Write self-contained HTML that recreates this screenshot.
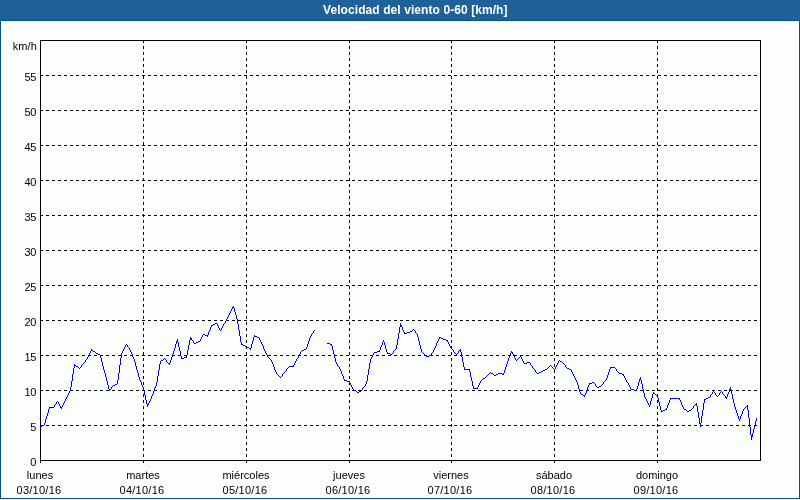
<!DOCTYPE html>
<html><head><meta charset="utf-8"><title>Velocidad del viento</title>
<style>
html,body{margin:0;padding:0;background:#fff;}
body{width:800px;height:500px;position:relative;overflow:hidden;font-family:"Liberation Sans",sans-serif;font-size:11px;color:#000;}
#frame{position:absolute;left:0;top:21px;width:798px;height:477px;border:1px solid #04518c;border-top:0;background:#fff;}
#hdr{position:absolute;left:0;top:0;width:800px;height:21px;background:#1e6196;}
#img{position:absolute;left:2px;top:22px;width:796px;height:476px;background:#fcfefc;}
#hline{position:absolute;left:1px;top:20px;width:798px;height:1px;background:#04518c;}
#title{position:absolute;z-index:2;left:323px;top:0;height:20px;line-height:20px;white-space:nowrap;color:#fff;font-weight:bold;font-size:12px;letter-spacing:0.08px;}
.yl{position:absolute;left:0;width:36px;text-align:right;height:13px;line-height:13px;letter-spacing:-0.4px;}
.un{letter-spacing:0.1px;width:37px;}
.xl{position:absolute;width:100px;text-align:center;height:13px;line-height:13px;}
.dt{letter-spacing:0.25px;}
svg{position:absolute;left:0;top:0;}
</style></head><body>
<div id="hdr"></div><div id="frame"></div><div id="img"></div><div id="hline"></div>
<div id="title">Velocidad del viento 0-60 [km/h]</div>

<svg width="800" height="500" viewBox="0 0 800 500" shape-rendering="crispEdges">
<defs><pattern id="dz" width="16" height="10" patternUnits="userSpaceOnUse"><path d="M6 0.5h1M9 0.5h1M12 0.5h1M2 2.5h1M13 2.5h1M4 3.5h1M7 3.5h1M10 3.5h1M15 4.5h1M2 5.5h1M8 5.5h1M12 5.5h1M5 6.5h1M10 7.5h1M14 7.5h1M1 8.5h1M4 8.5h1M7 8.5h1M9 9.5h1M13 9.5h1" stroke="#2464ae" stroke-width="1"/></pattern></defs><rect x="0" y="0" width="800" height="20" fill="url(#dz)"/>
<rect x="40.5" y="40.5" width="720" height="420" fill="none" stroke="#000" stroke-width="1"/>
<path d="M40 75.5H760M40 110.5H760M40 145.5H760M40 180.5H760M40 215.5H760M40 250.5H760M40 285.5H760M40 320.5H760M40 355.5H760M40 390.5H760M40 425.5H760" stroke="#000" stroke-width="1" stroke-dasharray="3 3" fill="none"/>
<path d="M143.5 40V460M246.5 40V460M349.5 40V460M451.5 40V460M554.5 40V460M657.5 40V460" stroke="#000" stroke-width="1" stroke-dasharray="3 3" fill="none"/>
<path d="M40.5 460V463M143.5 460V463M246.5 460V463M349.5 460V463M451.5 460V463M554.5 460V463M657.5 460V463" stroke="#000" stroke-width="1" fill="none"/>
<path d="M40.5 426v1M41.5 426v1M42.5 425v1M43.5 425v1M44.5 423v2M45.5 419v4M46.5 416v3M47.5 413v3M48.5 409v4M49.5 407v2M50.5 407v1M51.5 407v1M52.5 407v1M53.5 407v1M54.5 405v2M55.5 404v1M56.5 402v2M57.5 401v1M58.5 402v2M59.5 404v2M60.5 406v2M61.5 407v2M62.5 405v2M63.5 403v2M64.5 401v2M65.5 399v2M66.5 397v2M67.5 395v2M68.5 393v2M69.5 391v2M70.5 387v4M71.5 381v6M72.5 374v7M73.5 368v6M74.5 364v4M75.5 365v1M76.5 366v1M77.5 366v1M78.5 367v1M79.5 368v1M80.5 367v1M81.5 365v2M82.5 364v1M83.5 363v1M84.5 362v1M85.5 360v2M86.5 359v1M87.5 357v2M88.5 355v2M89.5 353v2M90.5 351v2M91.5 349v2M92.5 350v1M93.5 351v1M94.5 351v1M95.5 352v1M96.5 353v1M97.5 353v1M98.5 354v1M99.5 354v1M100.5 355v3M101.5 358v4M102.5 362v4M103.5 366v4M104.5 370v3M105.5 373v4M106.5 377v4M107.5 381v4M108.5 385v4M109.5 389v2M110.5 389v1M111.5 387v2M112.5 386v1M113.5 385v1M114.5 385v1M115.5 384v1M116.5 384v1M117.5 380v4M118.5 373v7M119.5 365v8M120.5 358v7M121.5 353v5M122.5 351v2M123.5 349v2M124.5 347v2M125.5 345v2M126.5 344v1M127.5 345v2M128.5 347v1M129.5 348v2M130.5 350v2M131.5 352v2M132.5 354v3M133.5 357v2M134.5 359v3M135.5 362v4M136.5 366v4M137.5 370v3M138.5 373v4M139.5 377v3M140.5 380v2M141.5 382v3M142.5 385v2M143.5 387v4M144.5 391v4M145.5 395v5M146.5 400v4M147.5 404v3M148.5 403v2M149.5 401v2M150.5 399v2M151.5 396v3M152.5 394v2M153.5 391v3M154.5 388v3M155.5 386v2M156.5 382v4M157.5 376v6M158.5 370v6M159.5 364v6M160.5 361v3M161.5 360v1M162.5 360v1M163.5 359v1M164.5 358v1M165.5 359v1M166.5 360v2M167.5 362v1M168.5 363v1M169.5 363v2M170.5 360v3M171.5 357v3M172.5 354v3M173.5 351v3M174.5 348v3M175.5 344v4M176.5 341v3M177.5 339v3M178.5 342v5M179.5 347v4M180.5 351v5M181.5 356v3M182.5 358v1M183.5 358v1M184.5 357v1M185.5 357v1M186.5 355v3M187.5 350v5M188.5 345v5M189.5 340v5M190.5 337v3M191.5 338v2M192.5 340v1M193.5 341v2M194.5 343v1M195.5 343v1M196.5 342v1M197.5 342v1M198.5 341v1M199.5 341v1M200.5 339v2M201.5 337v2M202.5 335v2M203.5 334v1M204.5 334v1M205.5 335v1M206.5 335v1M207.5 335v2M208.5 332v3M209.5 330v2M210.5 327v3M211.5 325v2M212.5 325v1M213.5 324v1M214.5 324v1M215.5 323v1M216.5 323v1M217.5 324v2M218.5 326v2M219.5 328v2M220.5 330v1M221.5 328v2M222.5 326v2M223.5 324v2M224.5 323v1M225.5 321v2M226.5 319v2M227.5 317v2M228.5 315v2M229.5 313v2M230.5 311v2M231.5 309v2M232.5 307v2M233.5 306v2M234.5 308v4M235.5 312v3M236.5 315v4M237.5 319v5M238.5 324v6M239.5 330v6M240.5 336v6M241.5 342v3M242.5 344v1M243.5 345v1M244.5 345v1M245.5 346v1M246.5 346v1M247.5 347v1M248.5 347v1M249.5 348v1M250.5 348v2M251.5 344v4M252.5 341v3M253.5 337v4M254.5 335v2M255.5 336v1M256.5 336v1M257.5 337v1M258.5 337v1M259.5 338v2M260.5 340v2M261.5 342v2M262.5 344v2M263.5 346v3M264.5 349v2M265.5 351v2M266.5 353v2M267.5 355v2M268.5 357v1M269.5 358v1M270.5 359v1M271.5 360v2M272.5 362v2M273.5 364v3M274.5 367v3M275.5 370v2M276.5 372v2M277.5 374v1M278.5 375v1M279.5 376v1M280.5 377v1M281.5 376v1M282.5 374v2M283.5 373v1M284.5 372v1M285.5 371v1M286.5 369v2M287.5 368v1M288.5 367v1M289.5 366v1M290.5 366v1M291.5 366v1M292.5 366v1M293.5 365v2M294.5 363v2M295.5 361v2M296.5 359v2M297.5 358v1M298.5 356v2M299.5 354v2M300.5 352v2M301.5 351v1M302.5 350v1M303.5 350v1M304.5 349v1M305.5 349v1M306.5 347v2M307.5 344v3M308.5 341v3M309.5 338v3M310.5 336v2M311.5 334v2M312.5 333v1M313.5 331v2M314.5 330v1M327.5 343v1M328.5 343v1M329.5 343v1M330.5 344v1M331.5 344v2M332.5 346v4M333.5 350v4M334.5 354v4M335.5 358v4M336.5 362v2M337.5 364v2M338.5 366v1M339.5 367v2M340.5 369v2M341.5 371v3M342.5 374v2M343.5 376v3M344.5 379v2M345.5 380v1M346.5 380v1M347.5 381v1M348.5 381v1M349.5 381v2M350.5 383v2M351.5 385v2M352.5 387v2M353.5 389v1M354.5 390v1M355.5 390v1M356.5 391v1M357.5 392v1M358.5 392v1M359.5 391v1M360.5 391v1M361.5 390v1M362.5 388v2M363.5 387v1M364.5 386v1M365.5 384v2M366.5 381v3M367.5 375v6M368.5 369v6M369.5 363v6M370.5 359v4M371.5 357v2M372.5 355v2M373.5 353v2M374.5 352v1M375.5 352v1M376.5 352v1M377.5 351v1M378.5 351v1M379.5 350v2M380.5 347v3M381.5 345v2M382.5 342v3M383.5 340v2M384.5 342v3M385.5 345v4M386.5 349v3M387.5 352v2M388.5 353v1M389.5 353v1M390.5 354v1M391.5 354v1M392.5 353v1M393.5 351v2M394.5 350v1M395.5 349v1M396.5 345v4M397.5 339v6M398.5 333v6M399.5 327v6M400.5 323v4M401.5 325v2M402.5 327v3M403.5 330v2M404.5 332v2M405.5 333v1M406.5 333v1M407.5 332v1M408.5 332v1M409.5 332v1M410.5 331v1M411.5 331v1M412.5 330v1M413.5 329v1M414.5 330v1M415.5 331v2M416.5 333v1M417.5 334v3M418.5 337v4M419.5 341v4M420.5 345v4M421.5 349v3M422.5 352v1M423.5 353v1M424.5 354v1M425.5 355v1M426.5 356v1M427.5 356v1M428.5 356v1M429.5 355v1M430.5 355v1M431.5 353v2M432.5 352v1M433.5 350v2M434.5 348v2M435.5 346v2M436.5 343v3M437.5 341v2M438.5 339v2M439.5 337v2M440.5 337v1M441.5 338v1M442.5 338v1M443.5 339v1M444.5 339v1M445.5 339v1M446.5 340v1M447.5 340v2M448.5 342v2M449.5 344v2M450.5 346v2M451.5 348v1M452.5 349v1M453.5 350v2M454.5 352v1M455.5 353v1M456.5 354v1M457.5 353v1M458.5 351v2M459.5 350v1M460.5 349v3M461.5 352v5M462.5 357v5M463.5 362v5M464.5 367v3M465.5 369v1M466.5 369v1M467.5 369v1M468.5 369v1M469.5 369v3M470.5 372v5M471.5 377v4M472.5 381v5M473.5 386v3M474.5 388v1M475.5 388v1M476.5 388v1M477.5 387v2M478.5 385v2M479.5 383v2M480.5 381v2M481.5 380v1M482.5 379v1M483.5 378v1M484.5 378v1M485.5 377v1M486.5 376v1M487.5 375v1M488.5 374v1M489.5 373v1M490.5 372v1M491.5 373v1M492.5 373v1M493.5 374v1M494.5 375v1M495.5 375v1M496.5 374v1M497.5 374v1M498.5 373v1M499.5 373v1M500.5 373v1M501.5 373v1M502.5 374v1M503.5 373v2M504.5 370v3M505.5 367v3M506.5 364v3M507.5 361v3M508.5 358v3M509.5 356v2M510.5 353v3M511.5 351v2M512.5 352v2M513.5 354v2M514.5 356v2M515.5 358v2M516.5 360v1M517.5 359v1M518.5 358v1M519.5 357v1M520.5 356v1M521.5 357v2M522.5 359v2M523.5 361v2M524.5 363v1M525.5 363v1M526.5 363v1M527.5 362v1M528.5 362v1M529.5 362v1M530.5 363v2M531.5 365v1M532.5 366v2M533.5 368v1M534.5 369v1M535.5 370v2M536.5 372v1M537.5 373v1M538.5 373v1M539.5 372v1M540.5 372v1M541.5 371v1M542.5 371v1M543.5 370v1M544.5 370v1M545.5 369v1M546.5 369v1M547.5 368v1M548.5 367v1M549.5 366v1M550.5 365v1M551.5 366v1M552.5 367v1M553.5 368v1M554.5 369v1M555.5 367v2M556.5 365v2M557.5 363v2M558.5 361v2M559.5 360v1M560.5 361v1M561.5 361v1M562.5 362v1M563.5 363v1M564.5 364v1M565.5 365v2M566.5 367v1M567.5 368v1M568.5 368v1M569.5 369v1M570.5 369v1M571.5 370v2M572.5 372v2M573.5 374v2M574.5 376v2M575.5 378v2M576.5 380v2M577.5 382v3M578.5 385v4M579.5 389v3M580.5 392v2M581.5 394v1M582.5 394v1M583.5 395v1M584.5 395v2M585.5 393v2M586.5 390v3M587.5 387v3M588.5 385v2M589.5 383v2M590.5 383v1M591.5 383v1M592.5 382v1M593.5 382v1M594.5 383v1M595.5 384v2M596.5 386v1M597.5 387v1M598.5 387v1M599.5 386v1M600.5 386v1M601.5 385v1M602.5 384v1M603.5 382v2M604.5 381v1M605.5 380v1M606.5 378v2M607.5 375v3M608.5 372v3M609.5 369v3M610.5 367v2M611.5 367v1M612.5 367v1M613.5 367v1M614.5 367v1M615.5 368v1M616.5 369v2M617.5 371v1M618.5 372v1M619.5 373v1M620.5 373v1M621.5 373v1M622.5 374v1M623.5 374v2M624.5 376v2M625.5 378v2M626.5 380v2M627.5 382v1M628.5 383v2M629.5 385v2M630.5 387v2M631.5 389v1M632.5 389v1M633.5 389v1M634.5 390v1M635.5 390v1M636.5 389v2M637.5 386v3M638.5 382v4M639.5 379v3M640.5 377v3M641.5 380v4M642.5 384v5M643.5 389v4M644.5 393v4M645.5 397v2M646.5 399v2M647.5 401v2M648.5 403v2M649.5 405v2M650.5 401v4M651.5 398v3M652.5 394v4M653.5 392v2M654.5 393v1M655.5 394v1M656.5 395v1M657.5 396v2M658.5 398v4M659.5 402v4M660.5 406v4M661.5 410v2M662.5 411v1M663.5 410v1M664.5 410v1M665.5 409v1M666.5 408v2M667.5 405v3M668.5 403v2M669.5 400v3M670.5 398v2M671.5 398v1M672.5 398v1M673.5 398v1M674.5 398v1M675.5 398v1M676.5 398v1M677.5 398v1M678.5 398v1M679.5 398v2M680.5 400v2M681.5 402v3M682.5 405v2M683.5 407v2M684.5 409v1M685.5 409v1M686.5 410v1M687.5 411v1M688.5 411v1M689.5 410v1M690.5 410v1M691.5 409v1M692.5 408v1M693.5 406v2M694.5 405v1M695.5 404v1M696.5 403v3M697.5 406v6M698.5 412v6M699.5 418v6M700.5 423v4M701.5 416v7M702.5 410v6M703.5 403v7M704.5 399v4M705.5 399v1M706.5 398v1M707.5 398v1M708.5 397v1M709.5 397v1M710.5 395v2M711.5 394v1M712.5 392v2M713.5 391v1M714.5 392v1M715.5 393v2M716.5 395v1M717.5 396v1M718.5 395v1M719.5 393v2M720.5 392v1M721.5 391v1M722.5 392v2M723.5 394v1M724.5 395v1M725.5 396v2M726.5 397v2M727.5 394v3M728.5 392v2M729.5 389v3M730.5 387v3M731.5 390v4M732.5 394v5M733.5 399v4M734.5 403v4M735.5 407v3M736.5 410v3M737.5 413v3M738.5 416v3M739.5 419v2M740.5 416v3M741.5 414v2M742.5 411v3M743.5 409v2M744.5 408v1M745.5 407v1M746.5 406v1M747.5 405v5M748.5 410v8M749.5 418v9M750.5 427v8M751.5 435v5M752.5 433v4M753.5 429v4M754.5 425v4M755.5 421v4M756.5 418v3" fill="none" stroke="#0000f0" stroke-width="1"/>
</svg>
<div class="yl un" style="top:40px">km/h</div>
<div class="yl" style="top:71px">55</div>
<div class="yl" style="top:106px">50</div>
<div class="yl" style="top:141px">45</div>
<div class="yl" style="top:176px">40</div>
<div class="yl" style="top:211px">35</div>
<div class="yl" style="top:246px">30</div>
<div class="yl" style="top:281px">25</div>
<div class="yl" style="top:316px">20</div>
<div class="yl" style="top:351px">15</div>
<div class="yl" style="top:386px">10</div>
<div class="yl" style="top:421px">5</div>
<div class="yl" style="top:456px">0</div>
<div class="xl" style="left:-10px;top:469px">lunes</div>
<div class="xl dt" style="left:-11px;top:484px">03/10/16</div>
<div class="xl" style="left:93px;top:469px">martes</div>
<div class="xl dt" style="left:92px;top:484px">04/10/16</div>
<div class="xl" style="left:196px;top:469px">miércoles</div>
<div class="xl dt" style="left:195px;top:484px">05/10/16</div>
<div class="xl" style="left:299px;top:469px">jueves</div>
<div class="xl dt" style="left:298px;top:484px">06/10/16</div>
<div class="xl" style="left:401px;top:469px">viernes</div>
<div class="xl dt" style="left:400px;top:484px">07/10/16</div>
<div class="xl" style="left:504px;top:469px">sábado</div>
<div class="xl dt" style="left:503px;top:484px">08/10/16</div>
<div class="xl" style="left:607px;top:469px">domingo</div>
<div class="xl dt" style="left:606px;top:484px">09/10/16</div>
</body></html>
